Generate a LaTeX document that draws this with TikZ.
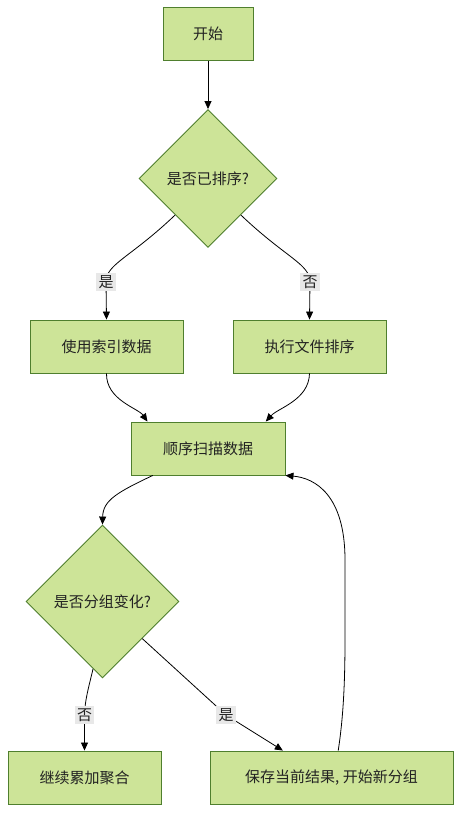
\documentclass[tikz,border=0pt]{standalone}
\usepackage{fontspec}
\newfontfamily\cjk{Noto Sans CJK SC}
\usetikzlibrary{shapes.geometric,arrows.meta}
\definecolor{nodefill}{HTML}{CDE498}
\definecolor{nodeborder}{HTML}{4F7F2E}
\definecolor{lblfill}{HTML}{E8E8E8}
\definecolor{txt}{HTML}{222222}
\tikzset{
  procbox/.style={draw=nodeborder, fill=nodefill, line width=0.9pt, minimum height=53pt, inner sep=0pt, text=txt, font=\cjk\fontsize{15}{17}\selectfont},
  decide/.style={diamond, aspect=1, draw=nodeborder, fill=nodefill, line width=0.9pt, inner sep=0pt, text=txt, font=\cjk\fontsize{15}{17}\selectfont},
  lbl/.style={fill=lblfill, inner sep=2.2pt, text=txt, font=\cjk\fontsize{15}{17}\selectfont},
  arr/.style={draw=black, line width=0.8pt, -{Triangle[length=8pt,width=7pt]}}
}
\begin{document}
\begin{tikzpicture}[x=1pt,y=-1pt]
\useasboundingbox[fill=white] (0,0) rectangle (469,826);
\node[procbox, minimum width=90pt] (start) at (208,34) {开始};
\node[decide, minimum width=138pt, minimum height=138pt] (d1) at (208,178.5) {是否已排序?};
\node[procbox, minimum width=153pt] (idx) at (106.5,346.5) {使用索引数据};
\node[procbox, minimum width=153pt] (sort) at (309.5,346.5) {执行文件排序};
\node[procbox, minimum width=154pt] (scan) at (208,448.5) {顺序扫描数据};
\node[decide, minimum width=153pt, minimum height=153pt] (d2) at (102.5,601.5) {是否分组变化?};
\node[procbox, minimum width=153pt] (keep) at (84.5,777.5) {继续累加聚合};
\node[procbox, minimum width=243pt] (save) at (331.5,777.5) {保存当前结果, 开始新分组};

\draw[arr] (start) -- (d1);
\draw[arr] (d1.228) .. controls (130,258) and (106,264) .. (106,282) node[lbl]{是} -- (idx.north);
\draw[arr] (d1.-48) .. controls (286,258) and (310,264) .. (310,282) node[lbl]{否} -- (sort.north);
\draw[arr] (idx.south) .. controls (106,400) and (138,408) .. (scan.156);
\draw[arr] (sort.south) .. controls (309,400) and (278,408) .. (scan.25);
\draw[arr] (scan.206) .. controls (118,492) and (103,500) .. (d2.north);
\draw[arr] (d2.262) .. controls (88,690) and (85,700) .. (84.5,715) node[lbl]{否} -- (keep.north);
\draw[arr] (d2.-43) -- (226,715) node[lbl]{是} -- (save.151);
\draw[arr] (save.76) .. controls (346,700) and (345,650) .. (345,600) -- (345,560) .. controls (345,495) and (315,478) .. (scan.south east);
\end{tikzpicture}
\end{document}
